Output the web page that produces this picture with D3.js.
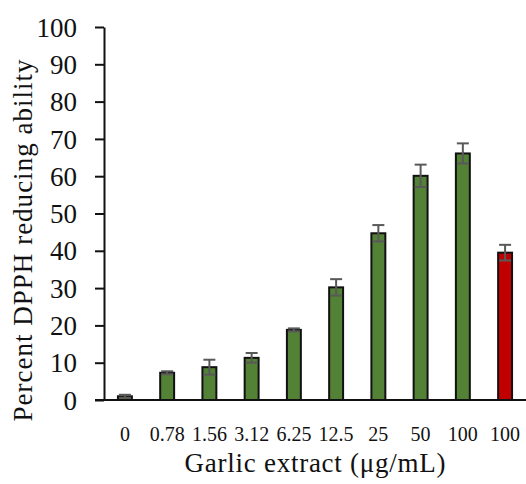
<!DOCTYPE html>
<html>
<head>
<meta charset="utf-8">
<script src="https://cdn.jsdelivr.net/npm/d3@7"></script>
<style>
  body { margin: 0; background: #fff; }
  svg text { font-family: "Palatino Linotype", "Book Antiqua", Palatino, "Liberation Serif", serif; fill: #111; }
</style>
</head>
<body>
<div id="chart"></div>
<script>
// data
const categories = ["0", "0.78", "1.56", "3.12", "6.25", "12.5", "25", "50", "100", "100 (ctrl)"];
const tickLabels = ["0", "0.78", "1.56", "3.12", "6.25", "12.5", "25", "50", "100", "100"];
const values = [1.0, 7.3, 8.8, 11.3, 18.8, 30.2, 44.7, 60.1, 66.1, 39.5];
const errors = [0.4, 0.4, 2.0, 1.3, 0.4, 2.2, 2.2, 3.0, 2.7, 2.1];
const barColors = ["#538135", "#538135", "#538135", "#538135", "#538135", "#538135", "#538135", "#538135", "#538135", "#C00000"];
const yTicks = [0, 10, 20, 30, 40, 50, 60, 70, 80, 90, 100];

const width = 526, height = 484;
const margin = { top: 27, right: 0, bottom: 84, left: 104 };

let svg = d3.select("#chart")
    .append("svg")
    .attr("width", width)
    .attr("height", height)
    .append("g")
    .attr("transform", `translate(${margin.left}, ${margin.top})`);

const innerW = width - margin.left - margin.right;
const innerH = height - margin.top - margin.bottom;

let x = d3.scaleBand()
    .domain(categories)
    .range([0, innerW])
    .paddingInner(0.67)
    .paddingOuter(0.33);

let y = d3.scaleLinear()
    .domain([0, 100])
    .range([innerH, 0]);

// bars
svg.selectAll("rect.bar")
    .data(values)
    .enter()
    .append("rect")
    .attr("class", "bar")
    .attr("x", (d, i) => x(categories[i]))
    .attr("y", d => y(d))
    .attr("width", x.bandwidth())
    .attr("height", d => y(0) - y(d))
    .attr("fill", (d, i) => barColors[i])
    .attr("stroke", "#111")
    .attr("stroke-width", 2);

// error bars
let errG = svg.append("g")
    .attr("stroke", "#595959")
    .attr("stroke-width", 2);
values.forEach((v, i) => {
    let cx = x(categories[i]) + x.bandwidth() / 2;
    errG.append("line")
        .attr("x1", cx).attr("x2", cx)
        .attr("y1", y(v - errors[i])).attr("y2", y(v + errors[i]));
    [v - errors[i], v + errors[i]].forEach(e => {
        errG.append("line")
            .attr("x1", cx - 6).attr("x2", cx + 6)
            .attr("y1", y(e)).attr("y2", y(e));
    });
});

// y axis
let yAxis = svg.append("g")
    .call(d3.axisLeft(y).tickValues(yTicks).tickSize(9).tickPadding(18).tickSizeOuter(0));
yAxis.select(".domain").attr("stroke", "#111").attr("stroke-width", 2);
yAxis.selectAll(".tick line").attr("stroke", "#111").attr("stroke-width", 2);
yAxis.selectAll(".tick text")
    .style("font-size", "27px")
    .attr("dy", "0.34em");

// x axis line (no ticks)
let xAxis = svg.append("g")
    .attr("transform", `translate(0, ${innerH})`)
    .call(d3.axisBottom(x).tickSize(0).tickPadding(27).tickFormat((d, i) => tickLabels[i]));
xAxis.select(".domain")
    .attr("d", `M-9,0H${innerW}`)
    .attr("stroke", "#111").attr("stroke-width", 2);
xAxis.selectAll(".tick text").style("font-size", "20px");

// axis titles
svg.append("text")
    .attr("transform", `translate(${innerW / 2}, ${innerH + 72})`)
    .style("text-anchor", "middle")
    .style("font-size", "27px")
    .attr("textLength", 261)
    .text("Garlic extract (μg/mL)");

svg.append("text")
    .attr("transform", `translate(-72, ${innerH / 2 + 27}) rotate(-90)`)
    .style("text-anchor", "middle")
    .style("font-size", "27px")
    .attr("textLength", 362)
    .text("Percent DPPH reducing ability");
</script>
</body>
</html>
